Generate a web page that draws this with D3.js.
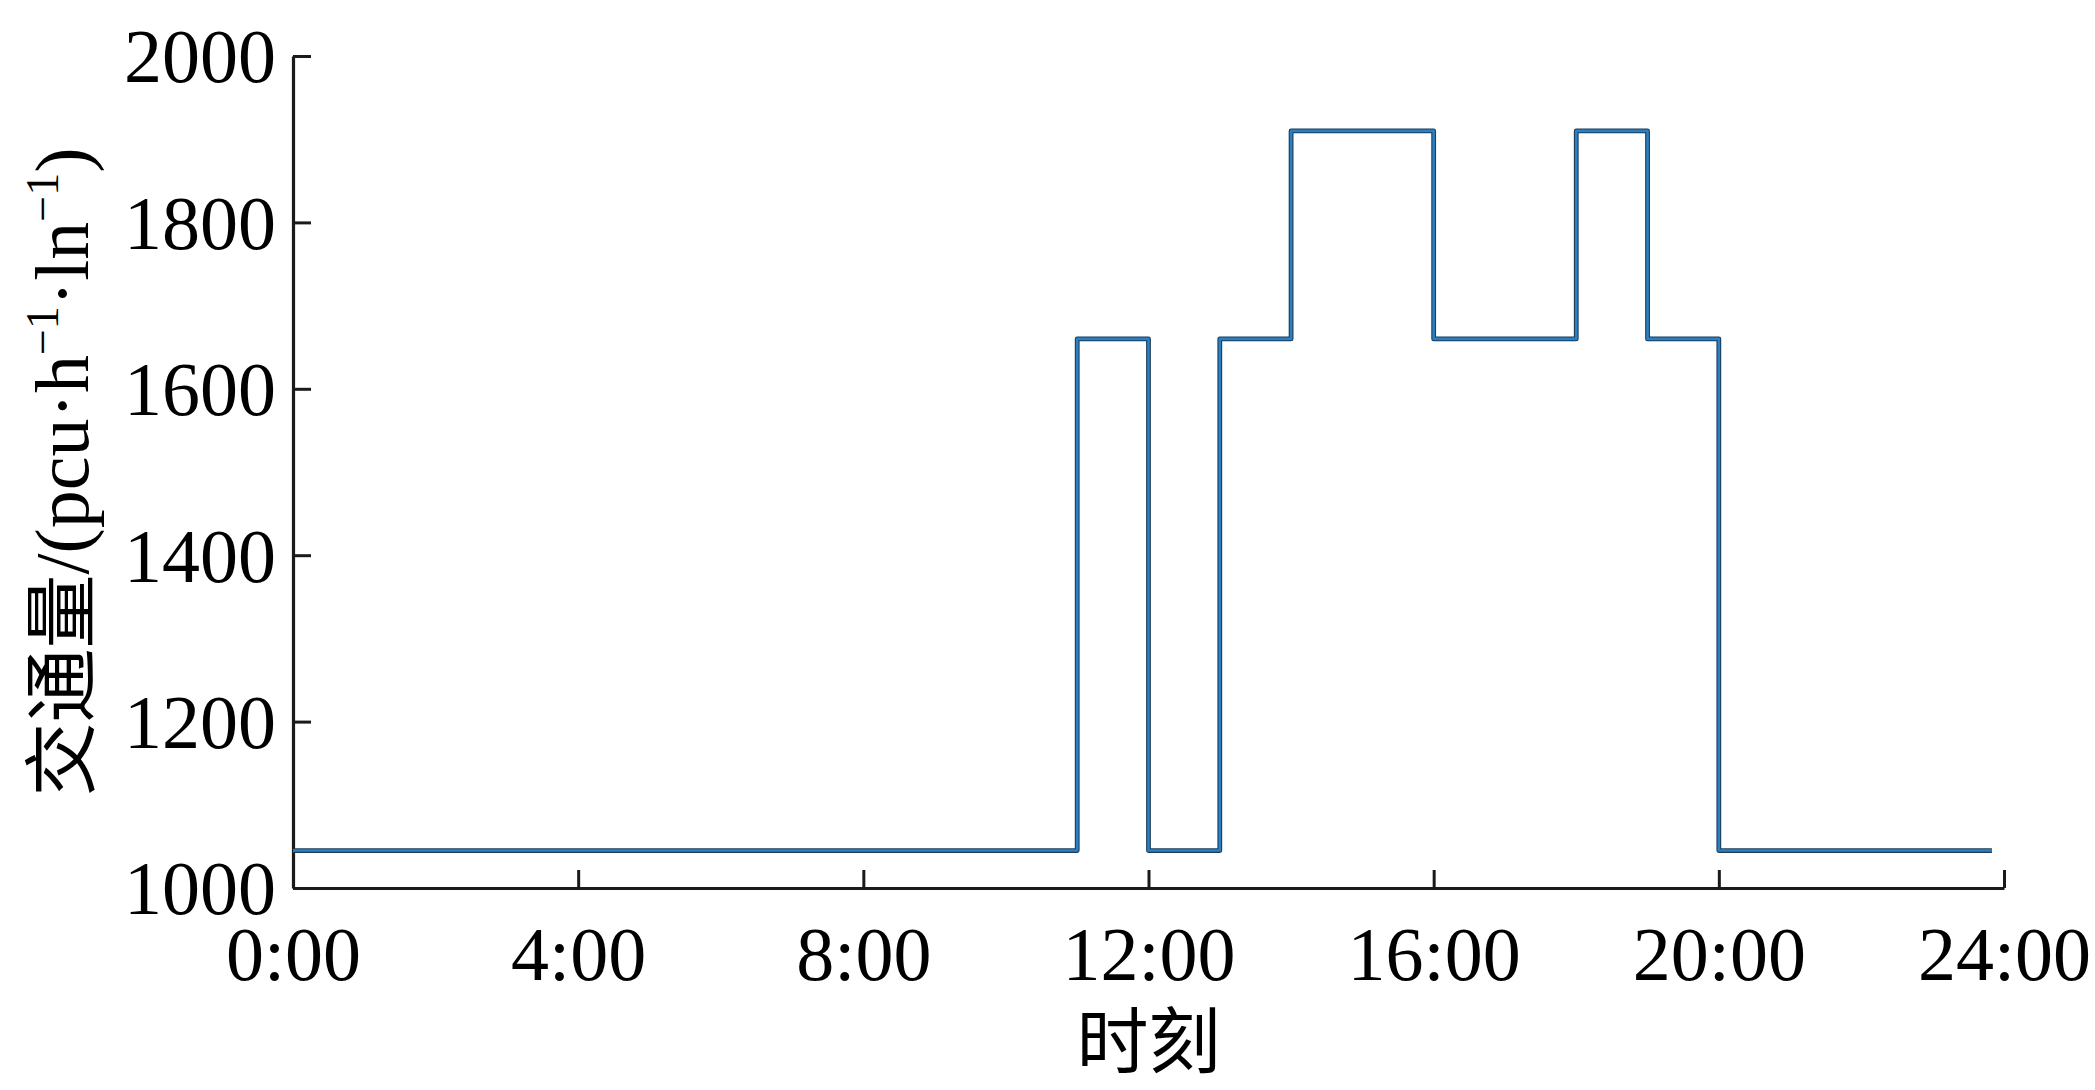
<!DOCTYPE html>
<html>
<head>
<meta charset="utf-8">
<script src="https://cdn.jsdelivr.net/npm/d3@7"></script>
<style>
html,body{margin:0;padding:0;background:#fff;}
svg{display:block;}
</style>
</head>
<body>
<script>
// Data
const stepTimes  = [0, 11, 12, 13, 14, 16, 18, 19, 20, 23.83];
const stepValues = [1045, 1660, 1045, 1660, 1910, 1660, 1910, 1660, 1045, 1045];
const xTicks = [0, 4, 8, 12, 16, 20, 24];
const xTickLabels = ["0:00", "4:00", "8:00", "12:00", "16:00", "20:00", "24:00"];
const yTicks = [1000, 1200, 1400, 1600, 1800, 2000];
const xTitle = "时刻";

const W = 2095, H = 1090;
const m = {left: 293, right: 2095 - 2004, top: 56, bottom: H - 888};

const svg = d3.select("body").append("svg").attr("width", W).attr("height", H);

const x = d3.scaleLinear().domain([0, 24]).range([m.left, W - m.right]);
const y = d3.scaleLinear().domain([1000, 2000]).range([H - m.bottom, m.top]);

const serif = "'Liberation Serif','Times New Roman',serif";
const cjk = "'Noto Sans CJK SC','Noto Sans CJK JP',sans-serif";

// Axes
const xAxis = d3.axisBottom(x).tickValues(xTicks)
  .tickFormat((d, i) => xTickLabels[i]).tickSizeInner(-18).tickSizeOuter(0).tickPadding(38);
const yAxis = d3.axisLeft(y).tickValues(yTicks)
  .tickFormat(d3.format("d")).tickSizeInner(-18).tickSizeOuter(0).tickPadding(17);

const gx = svg.append("g").attr("transform", `translate(0,${H - m.bottom})`).call(xAxis);
const gy = svg.append("g").attr("transform", `translate(${m.left},0)`).call(yAxis);

[gx, gy].forEach(g => {
  g.select(".domain").attr("stroke", "#1a1a1a").attr("stroke-width", 3.2);
  g.selectAll(".tick line").attr("stroke", "#1a1a1a").attr("stroke-width", 3);
  g.selectAll(".tick text").attr("fill", "#000")
    .style("font-family", serif).style("font-size", "76px");
});
gx.selectAll(".tick text").attr("dy", "0.71em").attr("y", 38);
gy.selectAll(".tick text").attr("dy", "0.34em");

// Line
const pts = stepTimes.map((t, i) => [t, stepValues[i]]);
const line = d3.line().x(d => x(d[0])).y(d => y(d[1])).curve(d3.curveStepAfter);

svg.append("path").datum(pts).attr("d", line)
  .attr("fill", "none").attr("stroke", "#1d3b57").attr("stroke-width", 4.8)
  .attr("stroke-linejoin", "round");
svg.append("path").datum(pts).attr("d", line)
  .attr("fill", "none").attr("stroke", "#2a80c2").attr("stroke-width", 2.6)
  .attr("stroke-linejoin", "round");

// X title
svg.append("text")
  .attr("x", (m.left + W - m.right) / 2).attr("y", 1067)
  .attr("text-anchor", "middle")
  .style("font-family", cjk).style("font-size", "72px").attr("fill", "#000")
  .text(xTitle);

// Y title
const yt = svg.append("text")
  .attr("transform", `translate(88,${(m.top + H - m.bottom) / 2}) rotate(-90)`)
  .attr("text-anchor", "middle")
  .style("font-size", "76px").attr("fill", "#000");
yt.append("tspan").style("font-family", cjk).style("font-size", "74px").text("交通量");
yt.append("tspan").style("font-family", serif).text("/(pcu·h");
yt.append("tspan").style("font-family", serif).style("font-size", "46px").attr("dy", -30).text("−1");
yt.append("tspan").style("font-family", serif).attr("dy", 30).text("·ln");
yt.append("tspan").style("font-family", serif).style("font-size", "46px").attr("dy", -30).text("−1");
yt.append("tspan").style("font-family", serif).attr("dy", 30).text(")");
</script>
</body>
</html>
